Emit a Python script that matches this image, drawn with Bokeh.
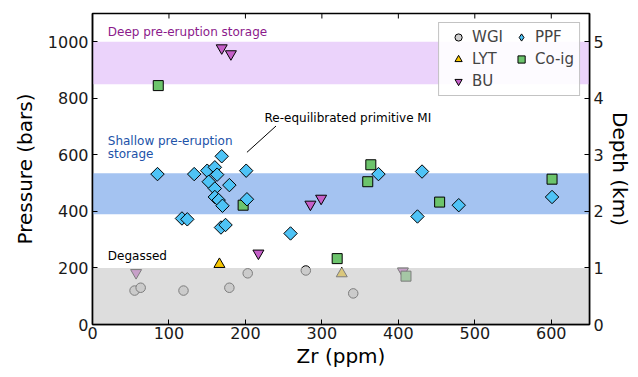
import numpy as np
from bokeh.plotting import figure
from bokeh.models import (Range1d, LinearAxis, Legend, LegendItem, BoxAnnotation,
                          Label, FixedTicker)
from bokeh.embed import file_html
from bokeh.resources import INLINE

FONT = "DejaVu Sans"

# ---- data (Zr ppm, Pressure bars) ----
wgi_zr = [55, 63, 119, 179, 203, 279, 341]
wgi_p = [120, 130, 120, 130, 181, 191, 110]

lyt_zr = [166, 326]
lyt_p = [213, 180]

bu_zr = [169, 181, 285, 299, 217, 57, 406]
bu_p = [978, 957, 425, 446, 252, 183, 188]

coig_zr = [86, 197, 320, 364, 360, 454, 601, 410]
coig_p = [845, 422, 233, 565, 505, 433, 514, 171]

ppf_zr = [85, 133, 150, 160, 163, 169, 152, 179, 160, 201, 160, 165, 170, 202,
          117, 124, 168, 174, 259, 374, 431, 425, 479, 601]
ppf_p = [532, 532, 544, 556, 530, 595, 505, 493, 481, 544, 451, 440, 420, 443,
         375, 372, 343, 352, 322, 532, 541, 382, 422, 451]

# storage bands (bars)
deep_band = [850, 1000]
shallow_band = [390, 535]
degassed_band = [0, 200]

# annotation line (Zr, P)
ann_x = [202, 240]
ann_y = [609, 702]

x_ticks = [0, 100, 200, 300, 400, 500, 600]
y_ticks = [0, 200, 400, 600, 800, 1000]
depth_ticks = [0, 1, 2, 3, 4, 5]
BARS_PER_KM = 200
X_MAX = 650
P_MAX = 1100

p = figure(frame_width=497, frame_height=311,
           x_range=Range1d(0, X_MAX), y_range=Range1d(0, P_MAX),
           output_backend="svg", toolbar_location=None,
           min_border_left=92, min_border_right=40, min_border_top=13, min_border_bottom=45)
p.grid.visible = False
p.outline_line_color = "black"
p.outline_line_width = 1.5
p.background_fill_color = "white"

p.extra_y_ranges = {"depth": Range1d(0, P_MAX / BARS_PER_KM)}

# bands beneath points
p.add_layout(BoxAnnotation(bottom=deep_band[0], top=deep_band[1], fill_color="#ebd3fb",
                           fill_alpha=1.0, line_color=None, level="underlay"))
p.add_layout(BoxAnnotation(bottom=shallow_band[0], top=shallow_band[1], fill_color="#a4c3f1",
                           fill_alpha=1.0, line_color=None, level="underlay"))

common = dict(line_color="black", line_width=1.0)
r_wgi = p.scatter(wgi_zr, wgi_p, marker="circle", size=9.5, fill_color="#d0d0d0", **common)
r_lyt = p.scatter(lyt_zr, lyt_p, marker="triangle", size=11, fill_color="#f7c600", **common)
r_bu = p.scatter(bu_zr, bu_p, marker="inverted_triangle", size=11, fill_color="#c55fc8", **common)
r_coig = p.scatter(coig_zr, coig_p, marker="square", size=10, fill_color="#6cc46c", **common)
r_ppf = p.scatter(ppf_zr, ppf_p, marker="square", angle=np.pi / 4, size=9.5,
                  fill_color="#4ec3f6", **common)
# hidden twin used only for the legend swatch (diamond shape)
r_ppf_leg = p.scatter(ppf_zr, ppf_p, marker="diamond", size=12, fill_color="#4ec3f6",
                      visible=False, **common)

# degassed overlay (drawn over points)
p.add_layout(BoxAnnotation(bottom=degassed_band[0], top=degassed_band[1], fill_color="#c8c8c8",
                           fill_alpha=0.62, line_color=None, level="glyph"))

# inward tick marks along the top edge (clipped to the frame)
p.scatter(x_ticks, [P_MAX] * len(x_ticks), marker="dash", angle=np.pi / 2, size=10,
          line_color="black", line_width=1)

p.line(ann_x, ann_y, line_color="black", line_width=1)

p.add_layout(Label(x=20, y=1034, text="Deep pre-eruption storage", text_font=FONT,
                   text_font_size="12px", text_color="#8b1a8b", text_baseline="middle"))
p.add_layout(Label(x=20, y=648, text="Shallow pre-eruption", text_font=FONT,
                   text_font_size="12px", text_color="#2152a8", text_baseline="middle"))
p.add_layout(Label(x=20, y=602, text="storage", text_font=FONT,
                   text_font_size="12px", text_color="#2152a8", text_baseline="middle"))
p.add_layout(Label(x=20, y=244, text="Degassed", text_font=FONT,
                   text_font_size="12px", text_color="black", text_baseline="middle"))
p.add_layout(Label(x=225, y=730, text="Re-equilibrated primitive MI", text_font=FONT,
                   text_font_size="12px", text_color="black", text_baseline="middle"))

def style_axis(ax):
    ax.major_tick_in = 5
    ax.major_tick_out = 0
    ax.minor_tick_line_color = None
    ax.axis_line_width = 1.5
    ax.major_tick_line_width = 1
    ax.major_label_text_font = FONT
    ax.major_label_text_font_size = "16px"
    ax.major_label_text_color = "#1a1a1a"
    ax.axis_label_text_font = FONT
    ax.axis_label_text_font_size = "20px"
    ax.axis_label_text_font_style = "normal"
    ax.axis_label_text_color = "black"

xa = p.xaxis[0]
style_axis(xa)
xa.ticker = FixedTicker(ticks=x_ticks)
xa.axis_label = "Zr (ppm)"
xa.major_label_standoff = 2
xa.axis_label_standoff = 2

ya = p.yaxis[0]
style_axis(ya)
ya.ticker = FixedTicker(ticks=y_ticks)
ya.axis_label = "Pressure (bars)"
ya.major_label_standoff = 4
ya.axis_label_standoff = 8

ra = LinearAxis(y_range_name="depth", axis_label="Depth (km)")
style_axis(ra)
ra.ticker = FixedTicker(ticks=depth_ticks)
ra.major_label_standoff = 4
ra.axis_label_standoff = 1
p.add_layout(ra, "right")

legend = Legend(items=[
    LegendItem(label="WGI", renderers=[r_wgi]),
    LegendItem(label="LYT", renderers=[r_lyt]),
    LegendItem(label="BU", renderers=[r_bu]),
    LegendItem(label="PPF", renderers=[r_ppf_leg]),
    LegendItem(label="Co-ig", renderers=[r_coig]),
], location="top_right", orientation="vertical", nrows=3)
legend.label_text_font = FONT
legend.label_text_font_size = "15px"
legend.glyph_width = 28
legend.glyph_height = 18
legend.label_standoff = 0
legend.spacing = 4
legend.padding = 5
legend.margin = 9
legend.border_line_color = "#888888"
legend.border_line_width = 1.2
legend.background_fill_alpha = 0.9
legend.inactive_fill_alpha = 0.0
p.add_layout(legend)

open("out.html", "w").write(file_html(p, INLINE))
